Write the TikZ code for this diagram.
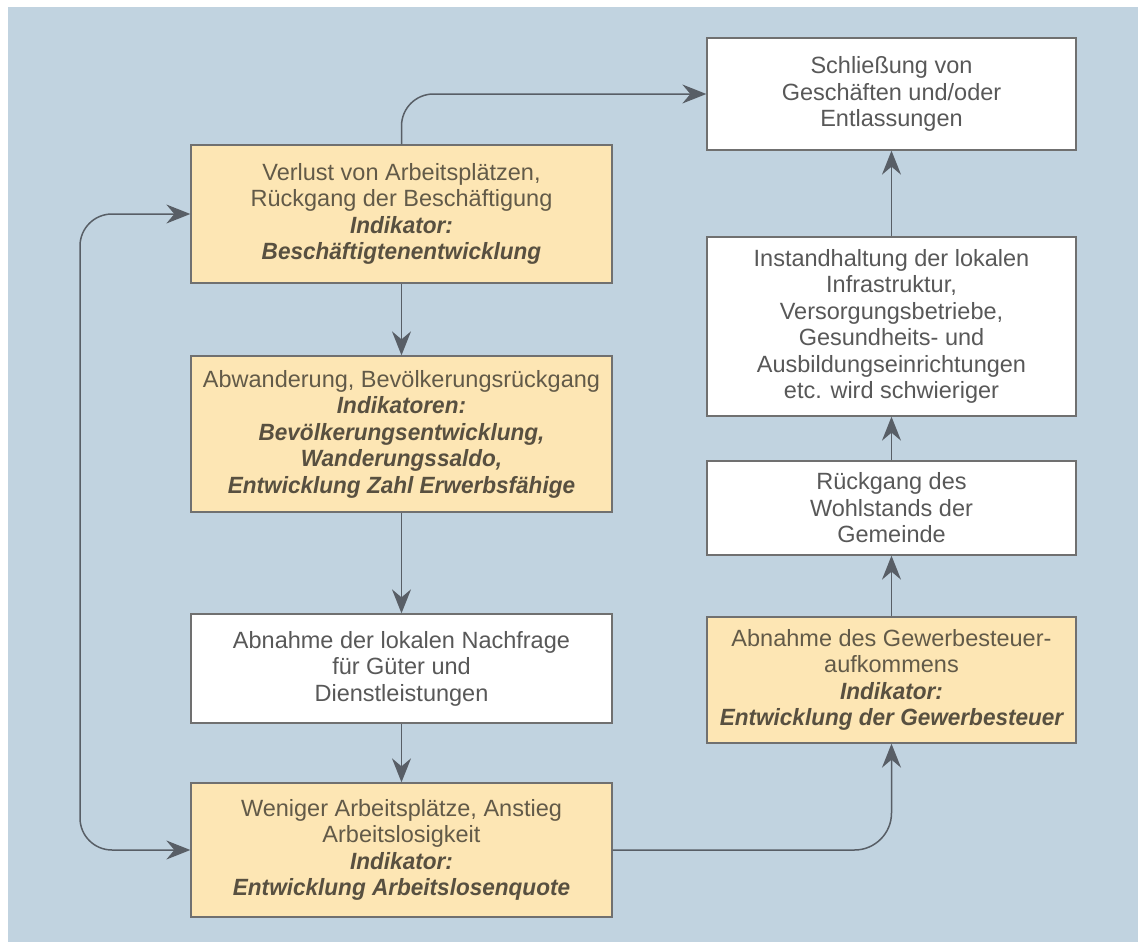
\documentclass[tikz,border=0pt]{standalone}
\usepackage{fontspec}
\setmainfont{Liberation Sans}
\usetikzlibrary{arrows.meta}
\definecolor{bgblue}{RGB}{193,211,224}
\definecolor{boxorange}{RGB}{253,230,180}
\definecolor{boxline}{RGB}{112,112,112}
\definecolor{arrowgray}{RGB}{88,94,102}
\definecolor{txtgray}{RGB}{88,88,88}
\definecolor{txtbrown}{RGB}{98,90,72}
\definecolor{indbrown}{RGB}{88,80,64}
\newcommand{\ind}[1]{{\bfseries\itshape\addfontfeature{FakeStretch=0.96}\color{indbrown}#1}}
\tikzset{
  basebox/.style={draw=boxline, line width=1.3pt, inner sep=0pt, align=center,
    font=\fontsize{23.5}{26.5}\selectfont},
  leftbox/.style={basebox, minimum width=421pt},
  rightbox/.style={basebox, minimum width=369pt},
  orangebox/.style={fill=boxorange, text=txtbrown},
  whitebox/.style={fill=white, text=txtgray},
  tipshape/.style={},
  arr/.style={draw=arrowgray, line width=1.5pt,
    -{Stealth[length=24pt, width=19pt, inset=8pt]}},
  darr/.style={draw=arrowgray, line width=1.5pt,
    {Stealth[length=24pt, width=19pt, inset=8pt]}-{Stealth[length=24pt, width=19pt, inset=8pt]}}
}
\begin{document}
\begin{tikzpicture}[x=1pt, y=-1pt]
\useasboundingbox (0,0) rectangle (1138,942);
\fill[bgblue] (8,7) rectangle (1138,942);

% left column
\node[leftbox, orangebox, minimum height=138pt] (A) at (401.5,214)
  {Verlust von Arbeitsplätzen,\\Rückgang der Beschäftigung\\\ind{Indikator:}\\\ind{Beschäftigtenentwicklung}};
\node[leftbox, orangebox, minimum height=156pt] (W) at (401.5,434)
  {Abwanderung, Bevölkerungsrückgang\\\ind{Indikatoren:}\\\ind{Bevölkerungsentwicklung,}\\\ind{Wanderungssaldo,}\\\ind{Entwicklung Zahl Erwerbsfähige}};
\node[leftbox, whitebox, minimum height=109pt] (N) at (401.5,668.5)
  {Abnahme der lokalen Nachfrage\\für Güter und\\Dienstleistungen};
\node[leftbox, orangebox, minimum height=134pt] (Wen) at (401.5,850)
  {Weniger Arbeitsplätze, Anstieg\\Arbeitslosigkeit\\\ind{Indikator:}\\\ind{Entwicklung Arbeitslosenquote}};

% right column
\node[rightbox, whitebox, minimum height=112pt] (S) at (891.5,94)
  {Schließung von\\Geschäften und/oder\\Entlassungen};
\node[rightbox, whitebox, minimum height=179pt] (I) at (891.5,326.5)
  {Instandhaltung der lokalen\\Infrastruktur,\\Versorgungsbetriebe,\\Gesundheits- und\\Ausbildungseinrichtungen\\etc. wird schwieriger};
\node[rightbox, whitebox, minimum height=94pt] (R) at (891.5,508)
  {Rückgang des\\Wohlstands der\\Gemeinde};
\node[rightbox, orangebox, minimum height=126pt] (G) at (891.5,680)
  {Abnahme des Gewerbesteuer-\\aufkommens\\\ind{Indikator:}\\\ind{Entwicklung der Gewerbesteuer}};

\coordinate (L) at (80,500);

% connectors
\draw[arr] (A) -- (W);
\draw[arr] (W) -- (N);
\draw[arr] (N) -- (Wen);
\draw[arr] (G) -- (R);
\draw[arr] (R) -- (I);
\draw[arr] (I) -- (S);
\draw[arr, rounded corners=32pt] (A.north) |- (S.west);
\draw[arr, rounded corners=37pt] (Wen.east) -| (G.south);
\draw[darr, rounded corners=32pt] (A.west) -| (L) |- (Wen.west);
\end{tikzpicture}
\end{document}
